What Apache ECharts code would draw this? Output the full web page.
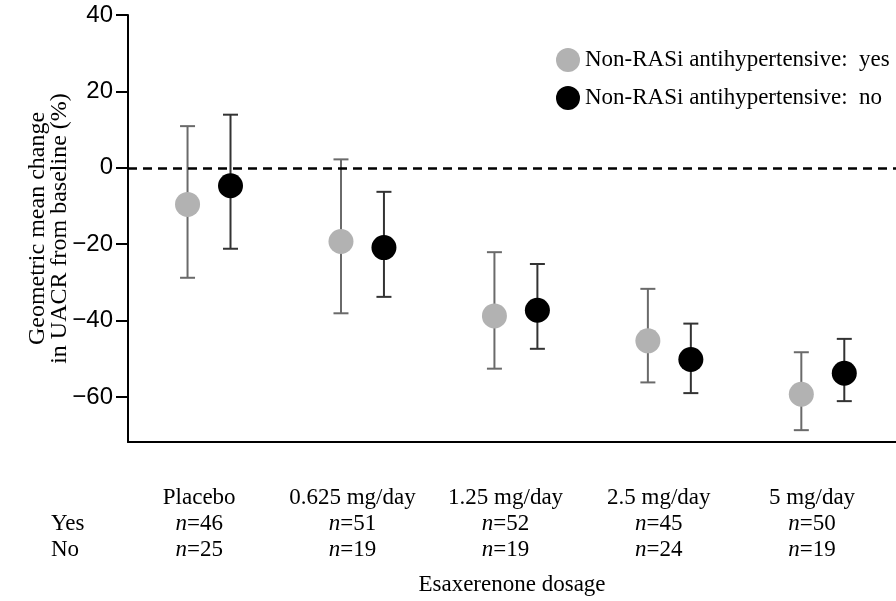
<!DOCTYPE html>
<html>
<head>
<meta charset="utf-8">
<script src="https://cdn.jsdelivr.net/npm/echarts@6/dist/echarts.min.js"></script>
<style>
html,body{margin:0;padding:0;background:#fff;}
#chart{width:896px;height:601px;}
</style>
</head>
<body>
<div id="chart"></div>
<script>
const categories = ['Placebo', '0.625 mg/day', '1.25 mg/day', '2.5 mg/day', '5 mg/day'];
const nYes = [46, 51, 52, 45, 50];
const nNo = [25, 19, 19, 24, 19];
const yesMean = [-9.6, -19.3, -38.8, -45.3, -59.3];
const yesLow = [-28.8, -38.1, -52.6, -56.2, -68.7];
const yesHigh = [10.9, 2.2, -22.1, -31.7, -48.3];
const noMean = [-4.7, -20.9, -37.3, -50.2, -53.8];
const noLow = [-21.2, -33.8, -47.4, -59.0, -61.1];
const noHigh = [13.9, -6.3, -25.2, -40.8, -44.8];
const yTicks = [-60, -40, -20, 0, 20, 40];

const SERIF = '"Liberation Serif", "Times New Roman", serif';
const SANS = '"Liberation Sans", Arial, sans-serif';

function makeRender(side, lineColor, fill) {
  return function (params, api) {
    const i = api.value(0);
    const c = api.coord([i, api.value(1)]);
    const lo = api.coord([i, api.value(2)]);
    const hi = api.coord([i, api.value(3)]);
    const off = side * api.size([1, 0])[0] * 0.14;
    const x = c[0] + off;
    const ls = { stroke: lineColor, lineWidth: 2 };
    return {
      type: 'group',
      children: [
        { type: 'line', shape: { x1: x, y1: hi[1], x2: x, y2: lo[1] }, style: ls },
        { type: 'line', shape: { x1: x - 7.5, y1: hi[1], x2: x + 7.5, y2: hi[1] }, style: ls },
        { type: 'line', shape: { x1: x - 7.5, y1: lo[1], x2: x + 7.5, y2: lo[1] }, style: ls },
        { type: 'circle', shape: { cx: x, cy: c[1], r: 12.5 }, style: { fill: fill } }
      ]
    };
  };
}

const yesData = categories.map((c, i) => [i, yesMean[i], yesLow[i], yesHigh[i]]);
const noData = categories.map((c, i) => [i, noMean[i], noLow[i], noHigh[i]]);

const chart = echarts.init(document.getElementById('chart'), null, { renderer: 'canvas' });
chart.setOption({
  animation: false,
  backgroundColor: '#fff',
  legend: {
    orient: 'vertical',
    left: 551,
    top: 43,
    itemWidth: 24,
    itemHeight: 24,
    itemGap: 14,
    icon: 'circle',
    textStyle: { fontFamily: SERIF, fontSize: 23, color: '#000', lineHeight: 24 },
    data: ['Non-RASi antihypertensive:  yes', 'Non-RASi antihypertensive:  no']
  },
  grid: [
    { left: 128, right: 0, top: 15, bottom: 159 },
    { left: 122.6, right: 7.4, top: 15, bottom: 159 }
  ],
  xAxis: [
    {
      type: 'value', gridIndex: 0, min: -0.528, max: 4.477,
      axisLine: { show: true, onZero: false, lineStyle: { color: '#000', width: 2 } },
      axisTick: { show: false }, axisLabel: { show: false }, splitLine: { show: false },
      name: 'Esaxerenone dosage', nameLocation: 'middle', nameGap: 131, nameMoveOverlap: false,
      nameTextStyle: { fontFamily: SERIF, fontSize: 23, color: '#000' }
    },
    {
      type: 'category', gridIndex: 1, data: categories,
      axisLine: { show: false }, axisTick: { show: false }, splitLine: { show: false },
      axisLabel: {
        interval: 0, margin: 43,
        fontFamily: SERIF, fontSize: 23, lineHeight: 26, color: '#000',
        formatter: function (v, idx) {
          return v + '\n{i|n}=' + nYes[idx] + '\n{i|n}=' + nNo[idx];
        },
        rich: { i: { fontFamily: SERIF, fontSize: 23, lineHeight: 26, fontStyle: 'italic', color: '#000' } }
      }
    }
  ],
  yAxis: [
    {
      type: 'value', gridIndex: 0, min: -71.8, max: 40,
      axisLine: { show: true, onZero: false, lineStyle: { color: '#000', width: 2 } },
      axisTick: { show: true, customValues: yTicks, length: 12, lineStyle: { color: '#000', width: 2 } },
      axisLabel: {
        customValues: yTicks, margin: 15,
        fontFamily: SANS, fontSize: 24, color: '#000',
        formatter: v => (v < 0 ? '\u2212' + Math.abs(v) : String(v))
      },
      splitLine: { show: false },
      name: 'Geometric mean change\nin UACR from baseline (%)',
      nameLocation: 'middle', nameRotate: 90, nameGap: 57, nameMoveOverlap: false,
      nameTextStyle: { fontFamily: SERIF, fontSize: 24, lineHeight: 22, color: '#000' }
    },
    { type: 'value', gridIndex: 1, show: false }
  ],
  series: [
    {
      name: 'Non-RASi antihypertensive:  yes',
      type: 'custom', xAxisIndex: 0, yAxisIndex: 0,
      itemStyle: { color: '#b2b2b2' },
      renderItem: makeRender(-1, '#6a6a6a', '#b2b2b2'),
      encode: { x: 0, y: [1, 2, 3] },
      data: yesData,
      markLine: {
        silent: true, symbol: 'none', label: { show: false },
        lineStyle: { color: '#000', width: 2.5, type: [9, 6] },
        data: [{ yAxis: 0 }]
      }
    },
    {
      name: 'Non-RASi antihypertensive:  no',
      type: 'custom', xAxisIndex: 0, yAxisIndex: 0,
      itemStyle: { color: '#000' },
      renderItem: makeRender(1, '#333', '#000'),
      encode: { x: 0, y: [1, 2, 3] },
      data: noData
    }
  ],
  graphic: [
    { type: 'text', left: 51, top: 512, style: { text: 'Yes', font: '23px ' + SERIF, fill: '#000' } },
    { type: 'text', left: 51, top: 538, style: { text: 'No', font: '23px ' + SERIF, fill: '#000' } }
  ]
});
</script>
</body>
</html>
